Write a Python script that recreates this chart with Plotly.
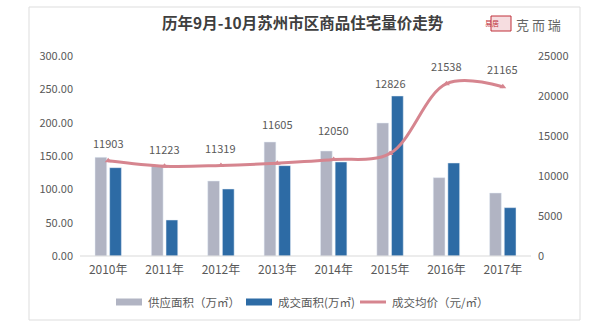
import plotly.graph_objects as go

years = ["2010年", "2011年", "2012年", "2013年", "2014年", "2015年", "2016年", "2017年"]
supply = [148, 135, 112.5, 171, 157.5, 199.5, 117.5, 94.5]
deal = [132.5, 54, 100.5, 135.5, 141, 240, 139.5, 72.5]
price = [11903, 11223, 11319, 11605, 12050, 12826, 21538, 21165]
label_shift = [18, 17.5, 17.7, 39, 30, 70, 18, 18]

title = "历年9月-10月苏州市区商品住宅量价走势"
left_ticks = [0, 50, 100, 150, 200, 250, 300]
right_ticks = [0, 5000, 10000, 15000, 20000, 25000]
legend_names = ["供应面积（万㎡）", "成交面积(万㎡)", "成交均价（元/㎡）"]

C_GRAY = "#b1b4c3"
C_BLUE = "#2d6ba5"
C_LINE = "#d6858f"
TXT = "#595959"
FONT = "Noto Sans CJK SC"

W, H = 610, 330
L, R, T, B = 80, 79, 56, 74
PW, PH = W - L - R, H - T - B


def px(x):
    return (x - L) / PW


def py(y):
    return (H - B - y) / PH


fig = go.Figure()
fig.add_bar(x=years, y=supply, name=legend_names[0], marker_color=C_GRAY, yaxis="y")
fig.add_bar(x=years, y=deal, name=legend_names[1], marker_color=C_BLUE, yaxis="y")
fig.add_scatter(x=years, y=price, name=legend_names[2], yaxis="y2", mode="lines+markers",
                line=dict(color=C_LINE, width=3, shape="spline", smoothing=1),
                marker=dict(symbol="triangle-up", size=6, color=C_LINE))

annotations = []
for yr, p, s in zip(years, price, label_shift):
    annotations.append(dict(x=yr, y=p, xref="x", yref="y2", text=str(p), showarrow=False,
                            yshift=s, yanchor="middle", font=dict(size=11, color=TXT, family=FONT)))

# title and logo
annotations.append(dict(x=px(303), y=py(22), xref="paper", yref="paper", text="<b>" + title + "</b>",
                        yanchor="middle", showarrow=False, font=dict(size=15.5, color="#3f3f3f", family=FONT)))
annotations.append(dict(x=px(501), y=py(23.5), xref="paper", yref="paper", text="易居",
                        yanchor="middle", showarrow=False, font=dict(size=7, color="#c0303a", family=FONT)))
annotations.append(dict(x=px(514), y=py(24), xref="paper", yref="paper", text="克 而 瑞",
                        xanchor="left", yanchor="middle", showarrow=False,
                        font=dict(size=13, color="#666666", family=FONT)))

shapes = [
    dict(type="rect", xref="paper", yref="paper", x0=px(29), x1=px(580), y0=py(320), y1=py(7),
         line=dict(color="#dddddd", width=1), layer="below"),
    dict(type="rect", xref="paper", yref="paper", x0=px(491), x1=px(511), y0=py(31), y1=py(16),
         line=dict(color="#c0303a", width=1), fillcolor="#f6dde0", layer="below"),
    dict(type="line", xref="paper", yref="paper", x0=0, x1=1, y0=0, y1=0,
         line=dict(color="#d9d9d9", width=1)),
]

# custom legend
leg_y = 302
items = [(116, C_GRAY, "bar"), (246, C_BLUE, "bar"), (360, C_LINE, "line")]
for (x0, col, kind), name in zip(items, legend_names):
    if kind == "bar":
        shapes.append(dict(type="rect", xref="paper", yref="paper", x0=px(x0), x1=px(x0 + 26),
                           y0=py(leg_y + 3.5), y1=py(leg_y - 3.5), line=dict(width=0), fillcolor=col))
    else:
        shapes.append(dict(type="line", xref="paper", yref="paper", x0=px(x0), x1=px(x0 + 26),
                           y0=py(leg_y), y1=py(leg_y), line=dict(color=col, width=3)))
    annotations.append(dict(x=px(x0 + 30), y=py(leg_y), xref="paper", yref="paper", text=name,
                            xanchor="left", yanchor="middle", showarrow=False,
                            font=dict(size=11.5, color=TXT, family=FONT)))

fig.update_layout(
    width=W, height=H, margin=dict(l=L, r=R, t=T, b=B),
    paper_bgcolor="white", plot_bgcolor="white",
    barmode="group", bargap=0.48, bargroupgap=0.2,
    showlegend=False,
    font=dict(family=FONT, color=TXT),
    xaxis=dict(showgrid=False, showline=False, ticks="", ticklabelstandoff=5,
               tickfont=dict(size=12, color=TXT)),
    yaxis=dict(range=[0, 300], tickvals=left_ticks, tickformat=".2f", showgrid=False, zeroline=False,
               showline=False, ticks="", ticklabelstandoff=6, tickfont=dict(size=11, color=TXT)),
    yaxis2=dict(range=[0, 25000], tickvals=right_ticks, tickformat="d", overlaying="y", side="right",
                showgrid=False, zeroline=False, showline=False, ticks="", ticklabelstandoff=6,
                tickfont=dict(size=11, color=TXT)),
    annotations=annotations, shapes=shapes,
)

fig.write_html("out.html")
